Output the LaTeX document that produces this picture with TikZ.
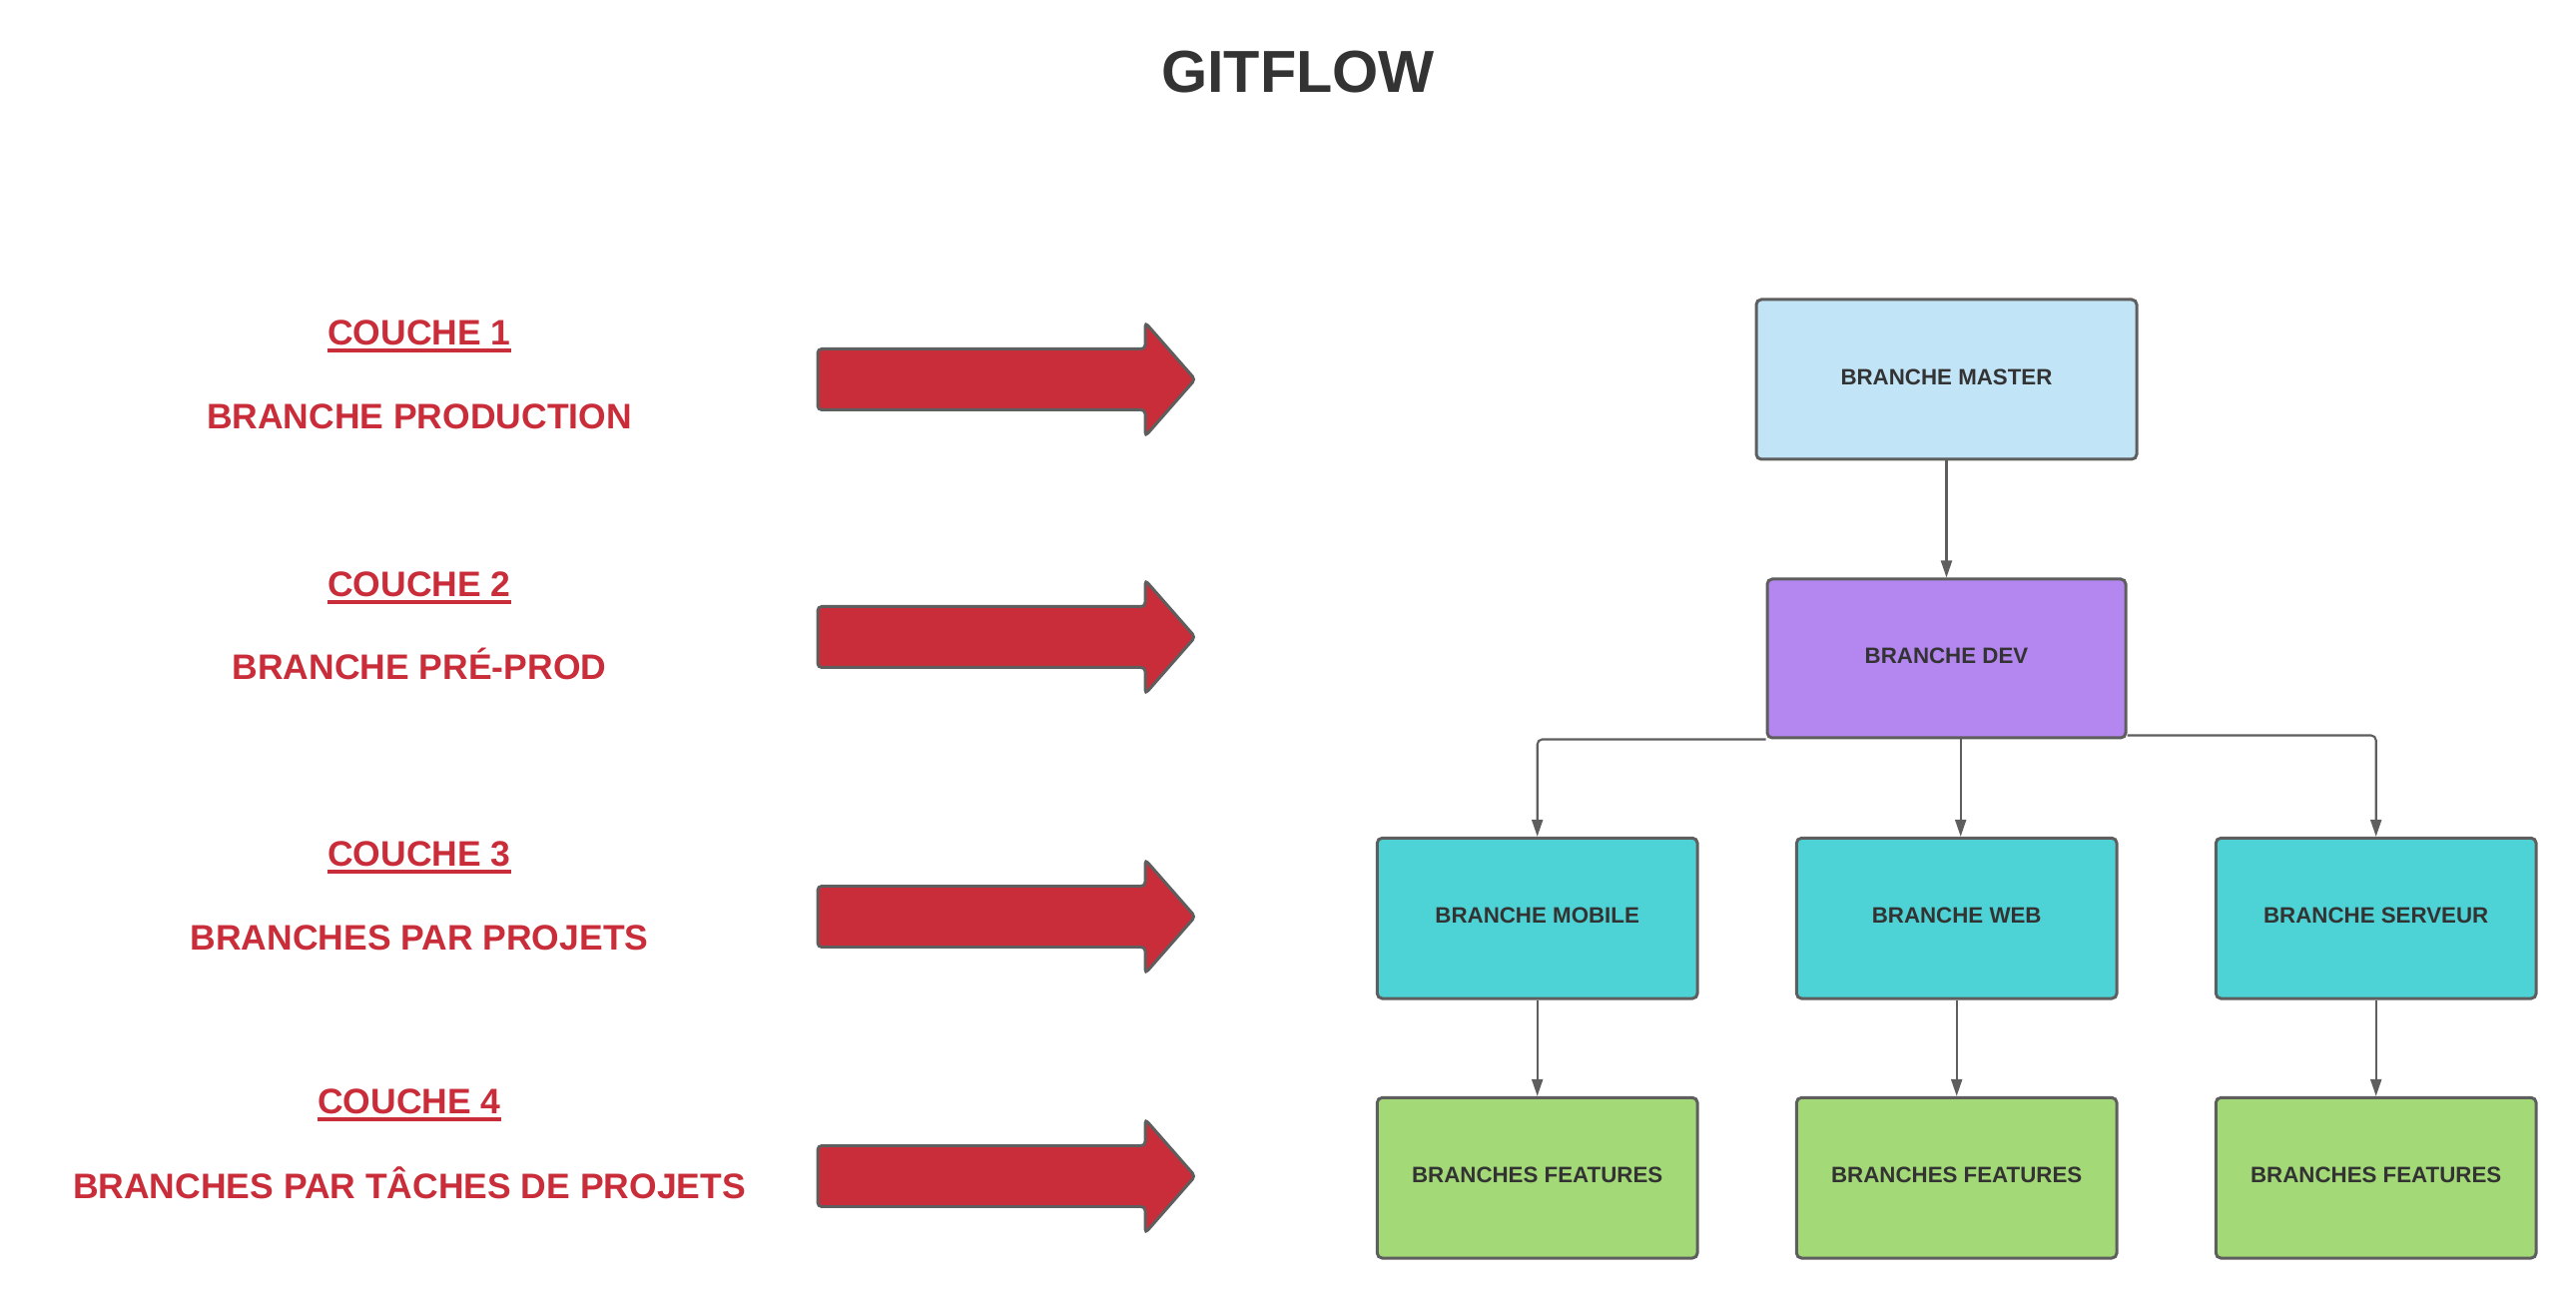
\documentclass[tikz,border=0pt]{standalone}
\usepackage{fontspec}
\setmainfont{Liberation Sans}
\usetikzlibrary{arrows.meta}
\definecolor{lucidred}{HTML}{C92D39}
\definecolor{lucidgrey}{HTML}{5E5E5E}
\definecolor{lucidtext}{HTML}{333333}
\definecolor{masterblue}{HTML}{C1E4F7}
\definecolor{devpurple}{HTML}{B487F0}
\definecolor{projteal}{HTML}{4DD3D6}
\definecolor{featgreen}{HTML}{A3D977}
\newcommand{\souligne}[1]{\vtop{\hbox{#1}\kern0.9pt\hrule height 0.95pt}}
\def\blockarrow(#1){\draw[line width=0.85pt, color=lucidgrey, fill=lucidred, rounded corners=0.04cm] (8.19, #1+0.305) -- (11.47, #1+0.305) -- (11.47, #1+0.57) -- (11.97, #1) -- (11.47, #1-0.57) -- (11.47, #1-0.305) -- (8.19, #1-0.305) -- cycle;}
\tikzset{
	branchbox/.style={draw=lucidgrey, line width=0.85pt, rounded corners=0.05cm, text=lucidtext, font=\fontsize{6.35}{7}\selectfont\bfseries, text height=4.6pt, text depth=1.7pt, minimum width=3.207cm, minimum height=1.607cm},
	couche/.style={text=lucidred, font=\fontsize{10.1}{12}\selectfont\bfseries},
	conn/.style={draw=lucidgrey, line width=0.6pt, rounded corners=0.05cm, -{Triangle[length=0.17cm, width=0.11cm]}}
}
\begin{document}
\begin{tikzpicture}
			%%%%% START %%%%%
			\useasboundingbox (0, 0) rectangle (25.8, -13);
			
			\node[text=lucidtext, font=\fontsize{16.9}{19}\selectfont\bfseries] (titre) at (13.0, -0.72) {GITFLOW};
			
			% couches
			\node[couche] (couche1) at (4.2, -3.37) {\souligne{COUCHE 1}};
			\node[couche] (prod) at (4.2, -4.17) {BRANCHE PRODUCTION};
			\node[couche] (couche2) at (4.2, -5.89) {\souligne{COUCHE 2}};
			\node[couche] (preprod) at (4.2, -6.65) {BRANCHE PRÉ-PROD};
			\node[couche] (couche3) at (4.2, -8.59) {\souligne{COUCHE 3}};
			\node[couche] (projets) at (4.2, -9.39) {BRANCHES PAR PROJETS};
			\node[couche] (couche4) at (4.1, -11.07) {\souligne{COUCHE 4}};
			\node[couche] (taches) at (4.1, -11.85) {BRANCHES PAR TÂCHES DE PROJETS};
			
			\blockarrow(-3.80)
			\blockarrow(-6.38)
			\blockarrow(-9.18)
			\blockarrow(-11.78)
			
			% branches
			\node[branchbox, fill=masterblue, minimum width=3.81cm, minimum height=1.60cm] (master) at (19.495, -3.80) {BRANCHE MASTER};
			\node[branchbox, fill=devpurple, minimum width=3.59cm, minimum height=1.59cm] (dev) at (19.495, -6.595) {BRANCHE DEV};
			
			\node[branchbox, fill=projteal] (mobile) at (15.397, -9.197) {BRANCHE MOBILE};
			\node[branchbox, fill=projteal] (web) at (19.597, -9.197) {BRANCHE WEB};
			\node[branchbox, fill=projteal] (serveur) at (23.797, -9.197) {BRANCHE SERVEUR};
			
			\node[branchbox, fill=featgreen] (feat1) at (15.397, -11.797) {BRANCHES FEATURES};
			\node[branchbox, fill=featgreen] (feat2) at (19.597, -11.797) {BRANCHES FEATURES};
			\node[branchbox, fill=featgreen] (feat3) at (23.797, -11.797) {BRANCHES FEATURES};
			
			\draw[conn] (master.south) -- (dev.north);
			\draw[conn] (dev.south west) -| (mobile.north);
			\draw[conn] ([xshift=0.04cm]dev.south -| web.north) -- ([xshift=0.04cm]web.north);
			\draw[conn] ([yshift=0.04cm]dev.south east) -| (serveur.north);
			
			\draw[conn] (mobile.south) -- (feat1.north);
			\draw[conn] (web.south) -- (feat2.north);
			\draw[conn] (serveur.south) -- (feat3.north);
			
			%%%%% END %%%%%
		\end{tikzpicture}
\end{document}
